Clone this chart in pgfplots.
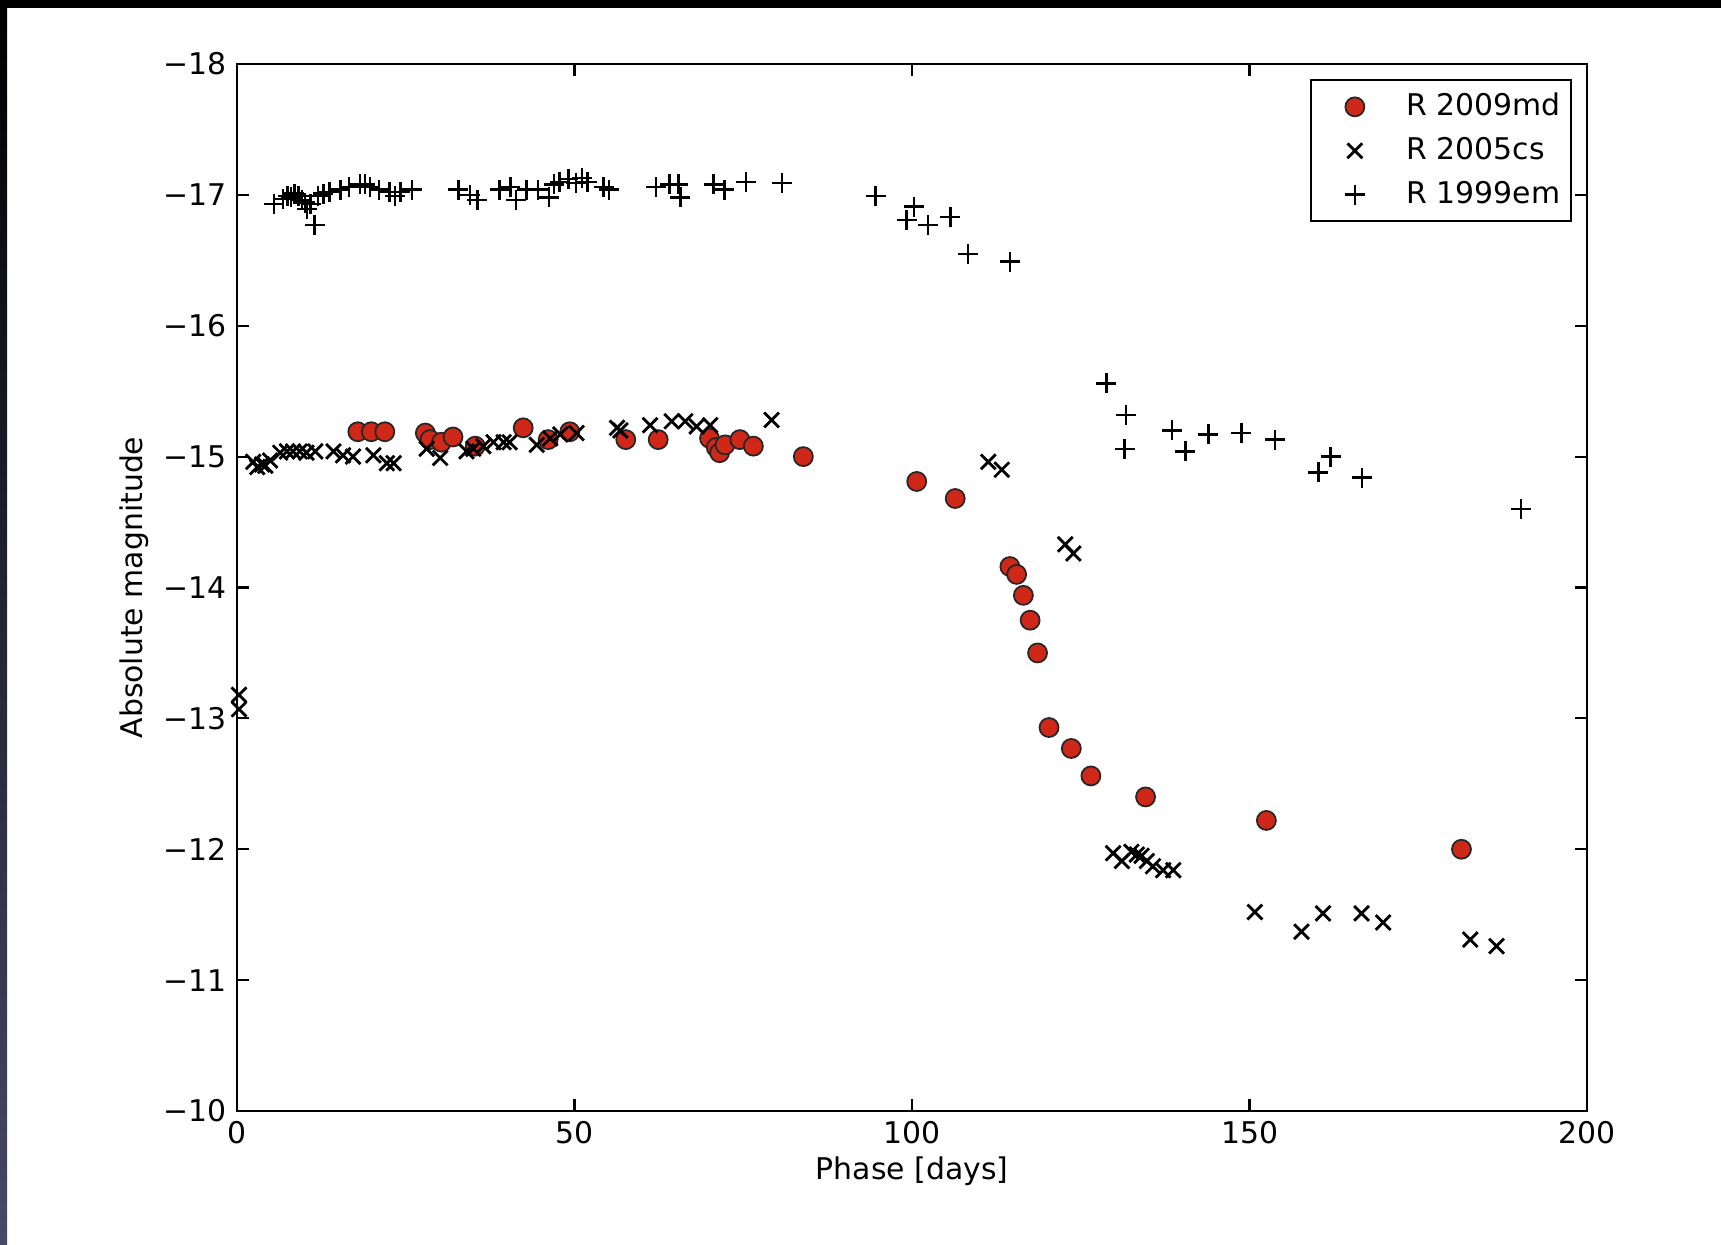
\documentclass[border=0pt]{standalone}
\usepackage{pgfplots}
\pgfplotsset{compat=1.18}
\usepackage{fontspec}
\setmainfont{DejaVu Sans}
\definecolor{snred}{RGB}{208,40,24}
\definecolor{edgeblue}{RGB}{72,72,104}
\begin{document}
\fontsize{8.5}{10}\selectfont
\begin{tikzpicture}[x=1mm,y=1mm]
\useasboundingbox (0,0) rectangle (172.1,124.5);
\fill[white] (0,0) rectangle (172.1,124.5);
\shade[top color=black,bottom color=edgeblue] (0,0) rectangle (0.7,124.5);
\fill[black] (0,123.7) rectangle (172.1,124.5);
\begin{axis}[
  at={(23.7mm,13.4mm)}, anchor=south west,
  scale only axis, width=135mm, height=104.7mm,
  xmin=0, xmax=200, ymin=-18, ymax=-10, y dir=reverse,
  xtick={0,50,100,150,200},
  ytick={-18,-17,-16,-15,-14,-13,-12,-11,-10},
  yticklabels={−18,−17,−16,−15,−14,−13,−12,−11,−10},
  tick align=inside, major tick length=1.2mm,
  tick style={black, line width=0.6pt},
  axis line style={line width=0.8pt},
  /pgf/number format/assume math mode=true,
  ticklabel style={font=\fontsize{8.5}{10}\selectfont},
  xlabel={Phase [days]}, ylabel={Absolute magnitude},
  label style={font=\fontsize{8.5}{10}\selectfont},
  x label style={at={(axis description cs:0.5,-0.058)}, anchor=center},
  y label style={at={(axis description cs:-0.076,0.5)}, anchor=center, rotate=0},
  legend cell align=left,
  legend image code/.code={\path[draw=none,fill=none] (0mm,0mm) -- (7.05mm,0mm);\draw[#1,only marks] plot coordinates {(4.1mm,0mm)};},
  legend style={at={(rel axis cs:1,1)}, anchor=north east, xshift=-1.5mm, yshift=-1.5mm,
    draw=black, line width=0.7pt, font=\fontsize{8.5}{10}\selectfont,
    column sep=1.5mm, row sep=0.3mm, inner xsep=0.3mm, inner ysep=0.6mm},
]
\addplot[only marks, mark=*, mark size=0.95mm, mark options={fill=snred, draw=black!85, line width=0.5pt}] table {
17.9 -15.19
19.9 -15.19
21.9 -15.19
27.9 -15.18
28.6 -15.13
30.3 -15.11
32.0 -15.15
35.3 -15.08
42.4 -15.22
46.1 -15.13
49.3 -15.19
57.6 -15.13
62.4 -15.13
70.0 -15.14
71.0 -15.07
71.5 -15.03
72.3 -15.09
74.5 -15.13
76.5 -15.08
83.9 -15.00
100.7 -14.81
106.4 -14.68
114.5 -14.16
115.5 -14.10
116.5 -13.94
117.5 -13.75
118.6 -13.50
120.3 -12.93
123.6 -12.77
126.5 -12.56
134.6 -12.40
152.5 -12.22
181.4 -12.00
};
\addlegendentry{R 2009md}
\addplot[only marks, mark=x, mark size=1.05mm, mark options={black, line width=0.8pt}] table {
0.3 -13.18
0.3 -13.07
2.4 -14.96
3.0 -14.92
3.7 -14.94
4.2 -14.93
4.9 -14.97
6.4 -15.03
7.4 -15.04
8.3 -15.04
9.3 -15.04
10.3 -15.03
11.6 -15.04
14.3 -15.04
15.7 -15.01
17.2 -15.00
20.2 -15.01
22.2 -14.95
23.2 -14.95
28.1 -15.06
30.1 -14.99
34.0 -15.04
35.0 -15.06
36.5 -15.08
38.0 -15.11
39.5 -15.11
40.4 -15.11
44.4 -15.09
46.4 -15.14
47.9 -15.17
50.3 -15.18
56.3 -15.22
56.8 -15.20
61.2 -15.24
64.4 -15.27
66.4 -15.27
68.1 -15.23
70.1 -15.24
79.2 -15.28
111.3 -14.96
113.3 -14.90
122.7 -14.33
123.9 -14.26
129.8 -11.97
131.1 -11.91
132.5 -11.98
133.3 -11.96
134.0 -11.95
134.8 -11.91
135.7 -11.87
137.2 -11.84
138.7 -11.84
150.8 -11.52
157.7 -11.37
160.9 -11.51
166.6 -11.51
169.8 -11.44
182.7 -11.31
186.6 -11.26
};
\addlegendentry{R 2005cs}
\addplot[only marks, mark=+, mark size=1.0mm, mark options={black, line width=0.7pt}] table {
5.5 -16.93
6.8 -16.97
7.5 -16.99
8.0 -16.98
8.5 -17.01
9.1 -16.99
9.6 -16.96
10.1 -16.94
10.4 -16.89
10.9 -16.93
11.5 -16.77
12.0 -16.99
12.8 -17.01
13.7 -17.02
15.3 -17.04
16.6 -17.06
18.2 -17.08
19.0 -17.08
19.7 -17.06
21.0 -17.04
22.6 -17.02
23.4 -16.99
24.2 -17.02
25.9 -17.04
32.8 -17.04
34.5 -17.00
35.6 -16.96
38.9 -17.04
40.5 -17.06
41.3 -16.96
42.9 -17.04
44.6 -17.04
46.2 -16.98
47.0 -17.08
47.8 -17.10
49.1 -17.12
50.2 -17.09
51.1 -17.13
51.9 -17.10
54.3 -17.06
55.1 -17.04
62.1 -17.06
64.1 -17.08
65.4 -17.08
65.7 -16.98
70.6 -17.08
72.2 -17.04
75.4 -17.10
80.7 -17.09
94.6 -16.99
99.2 -16.81
100.3 -16.91
102.4 -16.77
105.7 -16.83
108.3 -16.55
114.5 -16.49
128.8 -15.56
131.7 -15.32
131.5 -15.06
138.5 -15.20
140.5 -15.04
143.9 -15.17
148.8 -15.18
153.8 -15.13
160.2 -14.88
162.0 -15.00
166.7 -14.84
190.2 -14.60
};
\addlegendentry{R 1999em}
\end{axis}
\end{tikzpicture}
\end{document}
